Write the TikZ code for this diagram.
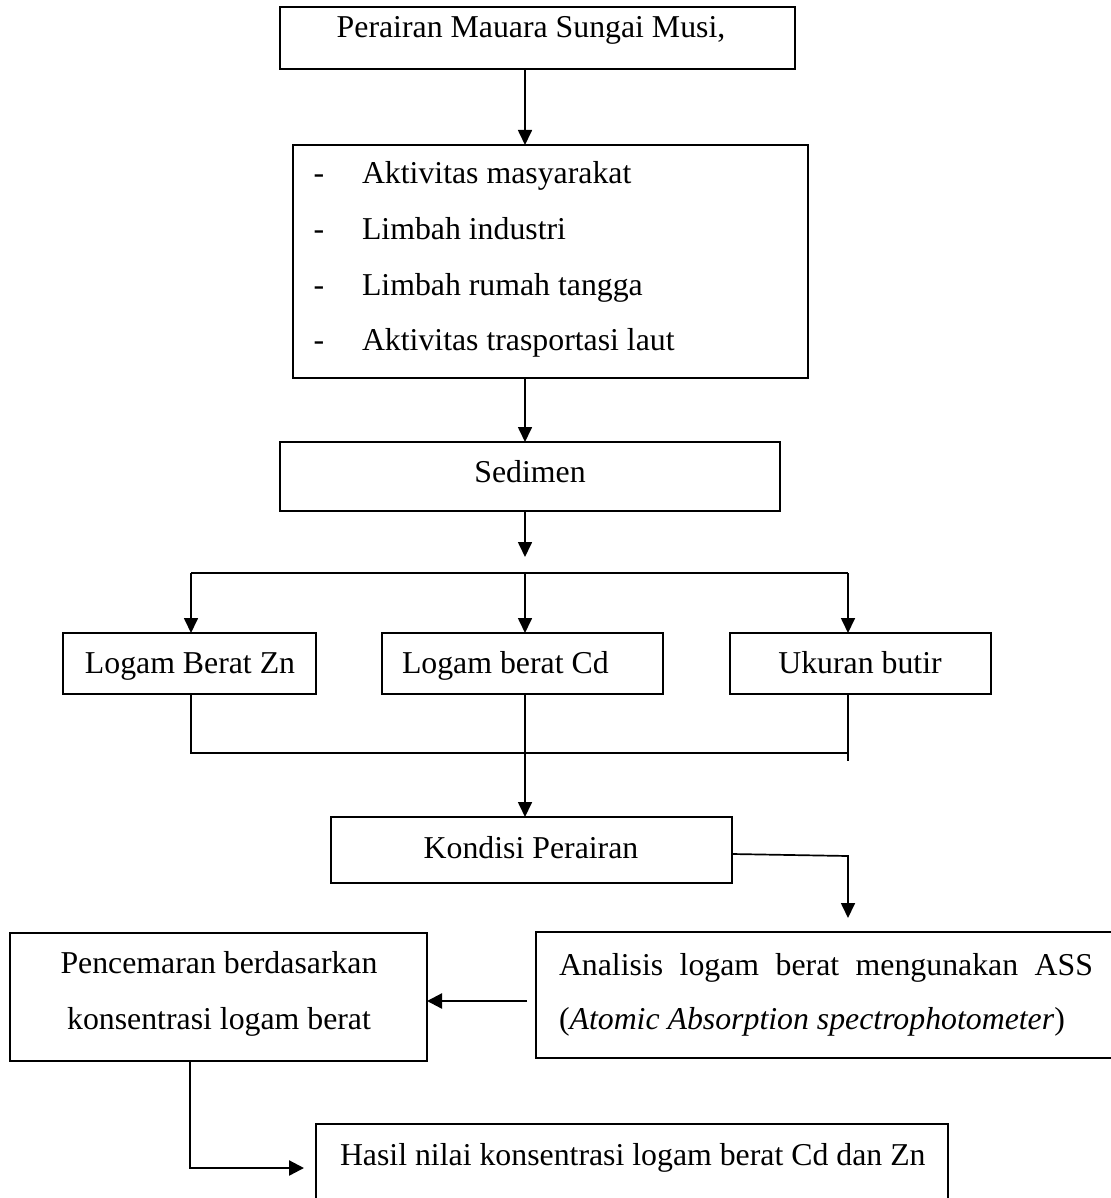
\documentclass[tikz,border=0pt]{standalone}
\usepackage{fontspec}
\setmainfont{Liberation Serif}
\usetikzlibrary{arrows.meta,calc}
\newcommand\fsz{\fontsize{31.8}{38}\selectfont}
\begin{document}
\begin{tikzpicture}[x=1pt,y=-1pt,
  box/.style={draw, line width=2pt, inner sep=0pt, outer sep=0pt},
  txt/.style={inner sep=0pt, outer sep=0pt, font=\fsz, anchor=base},
  txtl/.style={txt, anchor=base west},
  conn/.style={line width=1.7pt},
  arr/.style={conn, -{Triangle[length=15pt,width=14pt]}},
  arrb/.style={line width=2.3pt, -{Triangle[length=15pt,width=15pt]}}]
\useasboundingbox[fill=white] (0,0) rectangle (1110,1198);

% boxes
\node[box, minimum width=515pt, minimum height=62pt] (b1) at (537.5,38) {};
\node[box, minimum width=515pt, minimum height=233pt] (b2) at (550.5,261.5) {};
\node[box, minimum width=500pt, minimum height=69pt] (b3) at (530,476.5) {};
\node[box, minimum width=253pt, minimum height=61pt] (zn) at (189.5,663.5) {};
\node[box, minimum width=281pt, minimum height=61pt] (cd) at (522.5,663.5) {};
\node[box, minimum width=261pt, minimum height=61pt] (uk) at (860.5,663.5) {};
\node[box, minimum width=401pt, minimum height=66pt] (kon) at (531.5,850) {};
\node[box, minimum width=580pt, minimum height=126pt] (an) at (826,995) {};
\node[box, minimum width=417pt, minimum height=128pt] (pc) at (218.5,997) {};
\node[box, minimum width=632pt, minimum height=86pt] (ha) at (632,1167) {};

% texts
\node[txt] (t1) at (531,38) {Perairan Mauara Sungai Musi,};
\node[txt] (d1) at (319,184) {-};
\node[txt] (d2) at (319,240) {-};
\node[txt] (d3) at (319,295) {-};
\node[txt] (d4) at (319,350) {-};
\node[txtl] (l1) at (362,184) {Aktivitas masyarakat};
\node[txtl] (l2) at (362,240) {Limbah industri};
\node[txtl] (l3) at (362,295) {Limbah rumah tangga};
\node[txtl] (l4) at (362,350) {Aktivitas trasportasi laut};
\node[txt] (t3) at (530,482) {Sedimen};
\node[txt] (tzn) at (190,673) {Logam Berat Zn};
\node[txtl] (tcd) at (402,673) {Logam berat Cd};
\node[txt] (tuk) at (860,673) {Ukuran butir};
\node[txt] (tkon) at (531,858) {Kondisi Perairan};
\node[txt] (tpc1) at (219,973) {Pencemaran berdasarkan};
\node[txt] (tpc2) at (219,1029) {konsentrasi logam berat};
\node[txtl] (tan1) at (559,975) {\makebox[534pt][s]{Analisis logam berat mengunakan ASS}};
\node[txtl] (tan2) at (559,1029) {(\textit{Atomic Absorption spectrophotometer})};
\node[txtl] (tha) at (340,1165) {Hasil nilai konsentrasi logam berat Cd dan Zn};

% helper coordinates
\coordinate (cM) at (525,0);
\coordinate (cL) at (191,0);
\coordinate (cR) at (848,0);
\coordinate (cP) at (190,0);
\coordinate (splitTip) at (525,557);
\coordinate (split) at (525,573);
\coordinate (join) at (525,753);
\coordinate (joinEnd) at (848,761);
\coordinate (kBend) at (848,856);
\coordinate (anTip) at (848,918);
\coordinate (apY) at (0,1001);

% connectors
\draw[arr] (b1.south -| cM) -- (b2.north -| cM);
\draw[arr] (b2.south -| cM) -- (b3.north -| cM);
\draw[arr] (b3.south -| cM) -- (splitTip);
\draw[conn] (split -| cL) -- (split -| cR);
\draw[arr] (split -| cL) -- (zn.north -| cL);
\draw[arr] (split) -- (cd.north -| cM);
\draw[arr] (split -| cR) -- (uk.north -| cR);
\draw[conn] (zn.south -| cL) -- (join -| cL) -- (join -| cR);
\draw[conn] (uk.south -| cR) -- (joinEnd);
\draw[arr] (cd.south -| cM) -- (kon.north -| cM);
\draw[arr] ($(kon.east)+(0,4)$) -- (kBend) -- (anTip);
\draw[arrb] ($(an.west |- apY)+(-9,0)$) -- (pc.east |- apY);
\draw[arrb] (pc.south -| cP) |- ($(ha.west)+(-12,1)$);
\end{tikzpicture}
\end{document}
